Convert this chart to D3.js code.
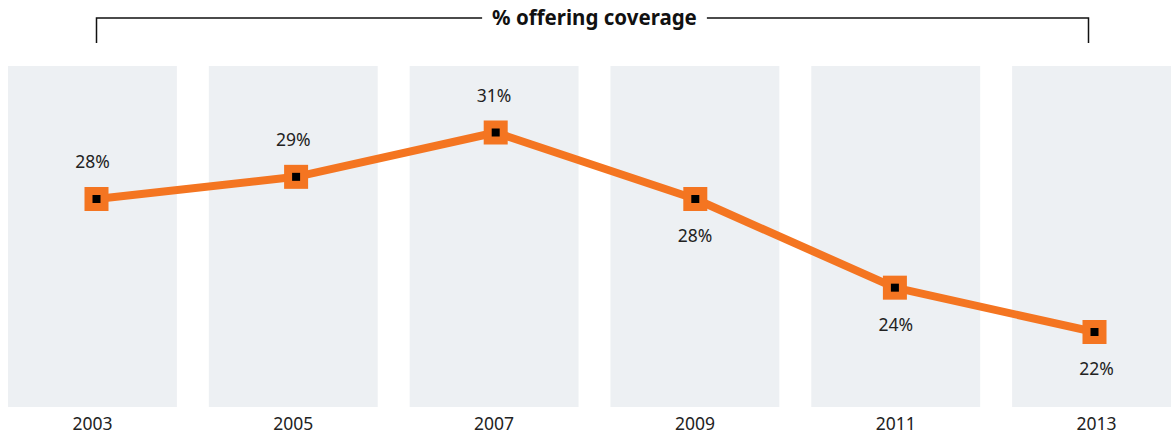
<!DOCTYPE html>
<html>
<head>
<meta charset="utf-8">
<script src="https://cdn.jsdelivr.net/npm/d3@7"></script>
<style>
  html, body { margin: 0; padding: 0; background: #fff; }
  svg { display: block; }
</style>
</head>
<body>
<svg id="chart" width="1171" height="438"></svg>
<script>
// Share of employers offering coverage, by survey year
const years = ["2003", "2005", "2007", "2009", "2011", "2013"];
const values = [28, 29, 31, 28, 24, 22];
// label above (-1) or below (+1) each point
const labelSide = [-1, -1, -1, 1, 1, 1];
const title = "% offering coverage";

const W = 1171, H = 438;
const svg = d3.select("#chart");
const font = "'Noto Sans', 'Open Sans', sans-serif";

// column bands behind each year
const xBand = d3.scaleBand().domain(years).range([8, 1181]).paddingInner(0.159).paddingOuter(0);
// point positions for the line
const xPoint = d3.scalePoint().domain(years).range([96.5, 1094.5]);
const y = d3.scaleLinear().domain([22, 31]).range([332, 132.5]);

svg.append("g").selectAll("rect")
  .data(years)
  .join("rect")
  .attr("x", d => xBand(d))
  .attr("y", 66)
  .attr("width", xBand.bandwidth())
  .attr("height", 341)
  .attr("fill", "#edf0f3");

// year axis along the bottom
const xAxis = d3.axisBottom(xBand).tickSize(0).tickPadding(0);
const axisG = svg.append("g").attr("transform", "translate(0,418)").call(xAxis);
axisG.select(".domain").remove();
axisG.selectAll("text")
  .attr("dy", "0.71em")
  .attr("y", 0)
  .style("font-family", font)
  .style("font-size", "17.5px")
  .attr("fill", "#222");

// bracket title
const bx0 = xPoint(years[0]), bx1 = xPoint(years[years.length - 1]) - 6;
const by = 18, bDrop = 43;
const titleText = svg.append("text")
  .attr("x", (bx0 + bx1) / 2 + 2)
  .attr("y", by)
  .attr("dy", "0.35em")
  .attr("text-anchor", "middle")
  .style("font-family", font)
  .style("font-weight", "bold")
  .style("font-size", "20.5px")
  .attr("fill", "#111")
  .text(title);
const tb = titleText.node().getBBox();
const gap = 10;
svg.append("path")
  .attr("d", `M${bx0},${bDrop}V${by}H${tb.x - gap}M${tb.x + tb.width + gap},${by}H${bx1}V${bDrop}`)
  .attr("fill", "none")
  .attr("stroke", "#111")
  .attr("stroke-width", 1.5);

// the line
const line = d3.line().x((d, i) => xPoint(years[i])).y(d => y(d));
svg.append("path")
  .datum(values)
  .attr("d", line)
  .attr("fill", "none")
  .attr("stroke", "#f47521")
  .attr("stroke-width", 8)
  .attr("stroke-linejoin", "round");

// square markers
const m = svg.append("g").selectAll("g")
  .data(values)
  .join("g")
  .attr("transform", (d, i) => `translate(${xPoint(years[i])},${y(d)})`);
m.append("rect").attr("x", -12).attr("y", -12).attr("width", 24).attr("height", 24).attr("fill", "#f47521");
m.append("rect").attr("x", -4).attr("y", -4).attr("width", 8).attr("height", 8).attr("fill", "#000");

// value labels
svg.append("g").selectAll("text")
  .data(values)
  .join("text")
  .attr("x", (d, i) => xBand(years[i]) + xBand.bandwidth() / 2)
  .attr("y", (d, i) => y(d) + labelSide[i] * 37)
  .attr("dy", "0.35em")
  .attr("text-anchor", "middle")
  .style("font-family", font)
  .style("font-size", "17.5px")
  .attr("fill", "#222")
  .text(d => d + "%");
</script>
</body>
</html>
